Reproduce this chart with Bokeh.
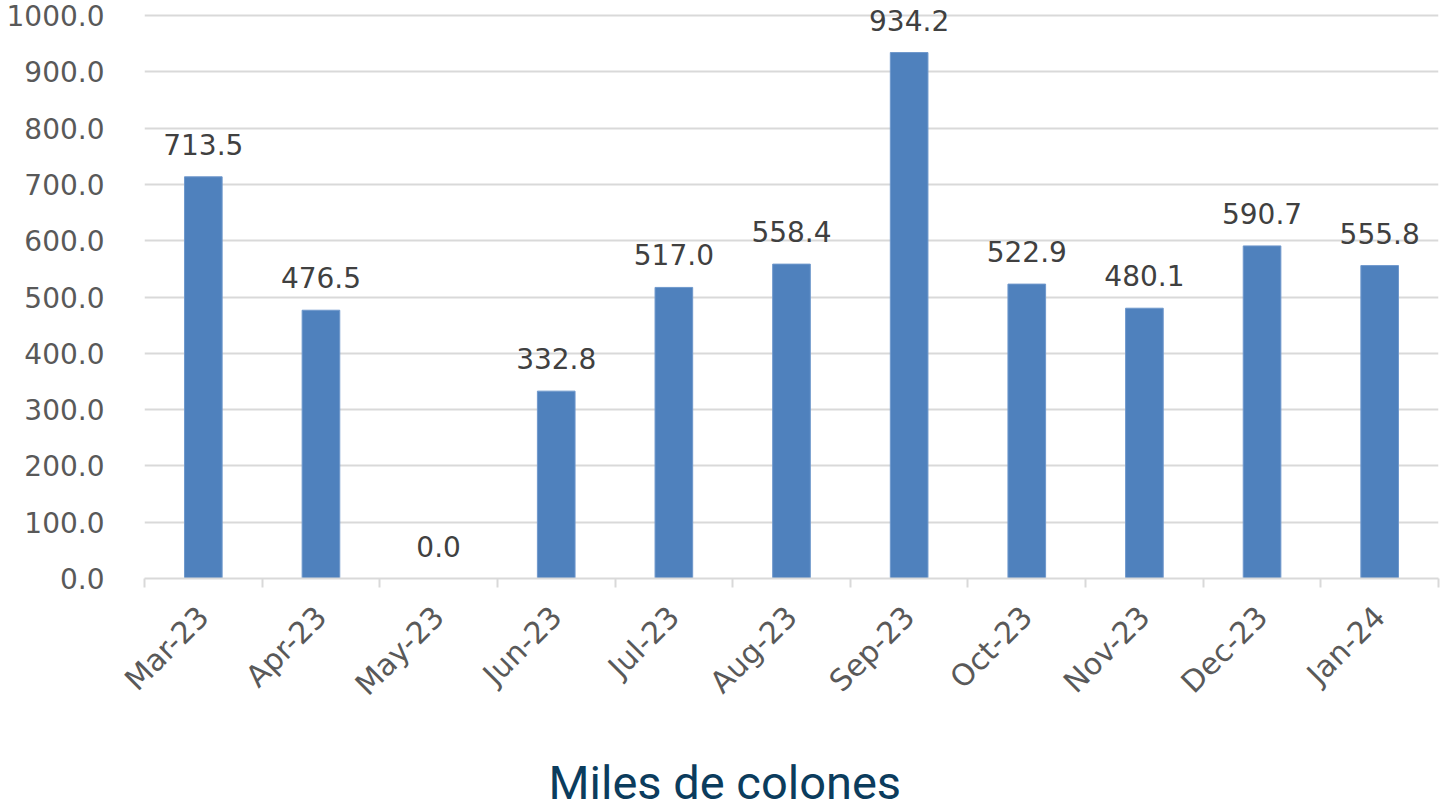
import math
from bokeh.plotting import figure
from bokeh.models import ColumnDataSource, FixedTicker, Range1d, Title, NumeralTickFormatter
from bokeh.core.properties import value
from bokeh.embed import file_html
from bokeh.resources import INLINE

months = ["Mar-23", "Apr-23", "May-23", "Jun-23", "Jul-23", "Aug-23",
          "Sep-23", "Oct-23", "Nov-23", "Dec-23", "Jan-24"]
values = [713.5, 476.5, 0.0, 332.8, 517.0, 558.4, 934.2, 522.9, 480.1, 590.7, 555.8]
y_ticks = [0, 100, 200, 300, 400, 500, 600, 700, 800, 900, 1000]
title_text = "Miles de colones"

n = len(months)
xs = [i + 0.5 for i in range(n)]
src = ColumnDataSource(dict(x=xs, top=values, lab=[f"{v:.1f}" for v in values]))

FH = 578  # frame height (top of frame at canvas top, headroom above 1000)
p = figure(frame_width=1294, frame_height=FH, output_backend="svg",
           toolbar_location=None,
           x_range=Range1d(0, n), y_range=Range1d(0, 1000 * FH / 563),
           min_border_left=144, min_border_right=2, min_border_top=0,
           min_border_bottom=0)
p.outline_line_color = None
p.background_fill_color = "white"
p.border_fill_color = "white"

p.vbar(x="x", top="top", width=0.32, bottom=0, source=src,
       fill_color="#4F81BD", line_color="#6F98CC", line_width=1)

p.text(x="x", y="top", text="lab", source=src, text_align="center",
       text_baseline="bottom", y_offset=-22, text_color="#404040",
       text_font=value("DejaVu Sans"), text_font_size="28px")

# y axis
p.yaxis.ticker = FixedTicker(ticks=y_ticks)
p.yaxis.formatter = NumeralTickFormatter(format="0.0")
p.yaxis.axis_line_color = None
p.yaxis.major_tick_line_color = None
p.yaxis.minor_tick_line_color = None
p.yaxis.major_label_text_font = "DejaVu Sans"
p.yaxis.major_label_text_font_size = "28px"
p.yaxis.major_label_text_color = "#595959"
p.yaxis.major_label_standoff = 34

# x axis
p.xaxis.ticker = FixedTicker(ticks=xs, minor_ticks=list(range(n + 1)))
p.xaxis.major_label_overrides = {x: m for x, m in zip(xs, months)}
p.xaxis.major_tick_line_color = None
p.xaxis.minor_tick_line_color = "#D9D9D9"
p.xaxis.minor_tick_line_width = 2
p.xaxis.minor_tick_in = 0
p.xaxis.minor_tick_out = 9
p.xaxis.axis_line_color = "#D9D9D9"
p.xaxis.axis_line_width = 2
p.xaxis.major_label_orientation = math.pi / 4
p.xaxis.major_label_text_font = "DejaVu Sans"
p.xaxis.major_label_text_font_size = "30px"
p.xaxis.major_label_text_color = "#595959"
p.xaxis.major_label_standoff = 24

p.xgrid.grid_line_color = None
p.ygrid.grid_line_color = "#D9D9D9"
p.ygrid.grid_line_width = 2

p.add_layout(Title(text=title_text, align="left", offset=404,
                   text_font="Roboto", text_font_style="normal",
                   text_font_size="47px", text_color="#0B3C5D",
                   standoff=70), "below")

open("out.html", "w").write(file_html(p, INLINE))
